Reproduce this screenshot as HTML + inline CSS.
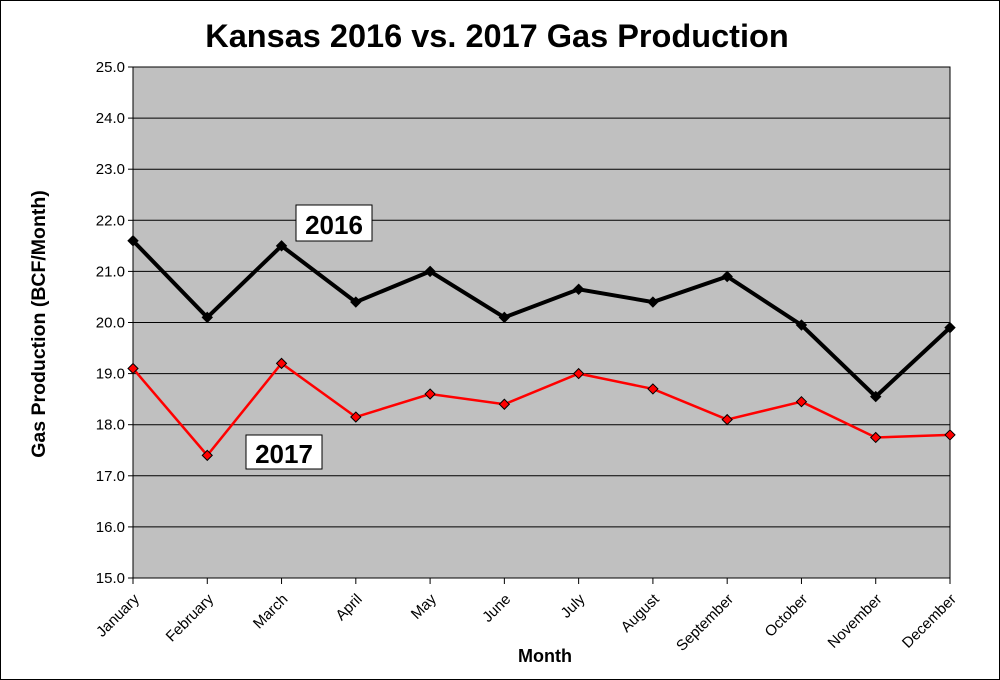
<!DOCTYPE html>
<html><head><meta charset="utf-8"><style>
body{margin:0;background:#fff}
svg{display:block;font-family:"Liberation Sans",Arial,sans-serif}
</style></head><body>
<svg id="chart" width="1000" height="680">
<rect x="0.5" y="0.5" width="999" height="679" fill="#fff" stroke="#000"/>
<text x="497" y="47" text-anchor="middle" font-size="32.5" font-weight="bold">Kansas 2016 vs. 2017 Gas Production</text>
<rect x="133" y="67" width="817" height="511" fill="#c0c0c0" stroke="#000"/>
<g id="grid"></g><g id="yticks"></g><g id="xticks"></g><g id="series"></g>
<text transform="translate(45,324) rotate(-90)" text-anchor="middle" font-size="19.5" font-weight="bold">Gas Production (BCF/Month)</text>
<text x="545" y="662" text-anchor="middle" font-size="18" font-weight="bold">Month</text>
<rect x="296" y="205" width="76" height="36" fill="#fff" stroke="#000"/>
<text x="334" y="234" text-anchor="middle" font-size="26" font-weight="bold">2016</text>
<rect x="246" y="435" width="76" height="34" fill="#fff" stroke="#000"/>
<text x="284" y="463" text-anchor="middle" font-size="26" font-weight="bold">2017</text>
</svg>
<script>
const months=["January","February","March","April","May","June","July","August","September","October","November","December"];
const values2016=[21.6,20.1,21.5,20.4,21.0,20.1,20.65,20.4,20.9,19.95,18.55,19.9];
const values2017=[19.1,17.4,19.2,18.15,18.6,18.4,19.0,18.7,18.1,18.45,17.75,17.8];
const yTicks=[15,16,17,18,19,20,21,22,23,24,25];
const NS="http://www.w3.org/2000/svg";
const X0=133,X1=950,Y0=578,Y1=67,ymin=15,ymax=25;
const xs=i=>X0+(X1-X0)*i/(months.length-1);
const ys=v=>Y0-(v-ymin)/(ymax-ymin)*(Y0-Y1);
function mk(t,a,p){const e=document.createElementNS(NS,t);for(const k in a)e.setAttribute(k,a[k]);p.appendChild(e);return e;}
const grid=document.getElementById('grid'),yt=document.getElementById('yticks'),xt=document.getElementById('xticks'),ser=document.getElementById('series');
yTicks.forEach(v=>{
 const y=ys(v);
 if(v>ymin&&v<ymax){const l=mk('line',{x1:X0,x2:X1,y1:y,y2:y,stroke:'#000','stroke-width':1},grid);
 
 }
 mk('line',{x1:X0-5,x2:X0,y1:y,y2:y,stroke:'#000'},yt);
 const t=mk('text',{x:X0-8,y:y+5,'text-anchor':'end','font-size':15},yt);t.textContent=v.toFixed(1);
 
 
});
months.forEach((m,i)=>{
 const x=xs(i);
 mk('line',{x1:x,x2:x,y1:Y0,y2:Y0+6,stroke:'#000'},xt);
 const t=mk('text',{transform:`translate(${x+7},${Y0+22}) rotate(-45)`,'text-anchor':'end','font-size':15},xt);t.textContent=m;
 
 
});
function draw(vals,color,w,name){
 const pl=mk('polyline',{points:vals.map((v,i)=>xs(i)+','+ys(v)).join(' '),fill:'none',stroke:color,'stroke-width':w,'stroke-linejoin':'miter'},ser);
 
 
 vals.forEach((v,i)=>{
  const x=xs(i),y=ys(v);
  const p=mk('polygon',{points:`${x},${y-5} ${x+5},${y} ${x},${y+5} ${x-5},${y}`,fill:color,stroke:'#000','stroke-width':1},ser);
  
  
 });
}
draw(values2016,'#000',4,'series-2016');
draw(values2017,'#ff0000',2.5,'series-2017');
</script>
</body></html>
